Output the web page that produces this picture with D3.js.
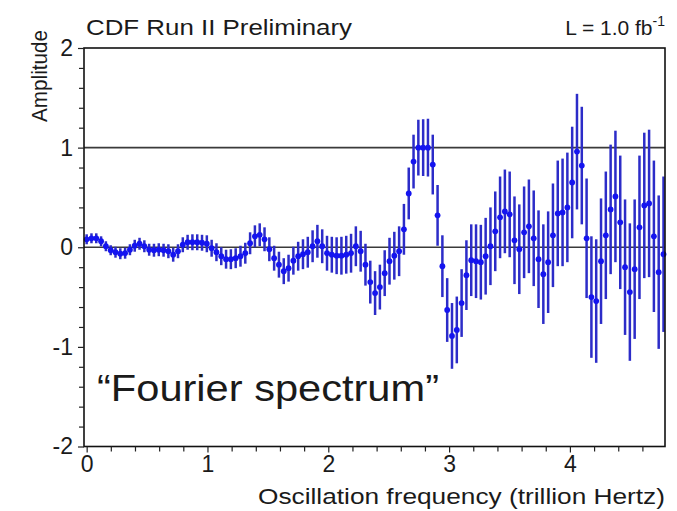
<!DOCTYPE html>
<html>
<head>
<meta charset="utf-8">
<script src="https://cdn.jsdelivr.net/npm/d3@7"></script>
<style>
  body { margin: 0; background: #fff; }
  text { font-family: "Liberation Sans", Arial, Helvetica, sans-serif; fill: #1a1a1a; }
</style>
</head>
<body>
<svg id="chart" width="677" height="511"></svg>
<script>
// Amplitude scan: one point per 0.25 ps^-1 step in Δm, shown as frequency (THz)
const scanStep = 0.25;

const amplitude = [
  0.08, 0.09, 0.09, 0.06, 0.01, -0.03, -0.05, -0.065, -0.06, -0.025,
  0.015, 0.035, 0.01, -0.025, -0.03, -0.025, -0.03, -0.04, -0.075, -0.04,
  0.025, 0.05, 0.05, 0.05, 0.045, 0.035, -0.01, -0.05, -0.09, -0.12,
  -0.12, -0.11, -0.09, -0.06, 0.04, 0.11, 0.125, 0.08, -0.02, -0.11,
  -0.175, -0.24, -0.21, -0.135, -0.09, -0.07, -0.05, 0.01, 0.06, 0.01,
  -0.06, -0.075, -0.085, -0.085, -0.075, -0.06, 0.01, -0.04, -0.175, -0.35,
  -0.46, -0.40, -0.26, -0.14, -0.085, -0.04, 0.18, 0.54, 0.86, 1.00,
  1.00, 1.00, 0.83, 0.32, -0.19, -0.63, -0.89, -0.83, -0.56, -0.28,
  -0.13, -0.14, -0.15, -0.09, 0.01, 0.16, 0.30, 0.36, 0.33, 0.07,
  -0.02, 0.15, 0.21, 0.09, -0.12, -0.27, -0.15, 0.12, 0.34, 0.35,
  0.40, 0.65, 0.96, 0.82, 0.09, -0.50, -0.54, -0.14, 0.12, 0.38,
  0.51, 0.25, -0.20, -0.45, -0.22, 0.20, 0.42, 0.44, 0.11, -0.25,
  -0.07
];

const amplitudeError = [
  0.05, 0.05, 0.05, 0.05, 0.05, 0.05, 0.055, 0.055, 0.055, 0.055,
  0.06, 0.06, 0.06, 0.06, 0.065, 0.065, 0.065, 0.07, 0.07, 0.07,
  0.075, 0.075, 0.08, 0.08, 0.08, 0.085, 0.085, 0.09, 0.09, 0.095,
  0.10, 0.10, 0.105, 0.105, 0.11, 0.11, 0.115, 0.12, 0.12, 0.125,
  0.13, 0.13, 0.135, 0.14, 0.145, 0.15, 0.155, 0.16, 0.165, 0.17,
  0.175, 0.18, 0.185, 0.19, 0.19, 0.195, 0.20, 0.205, 0.21, 0.215,
  0.22, 0.225, 0.23, 0.235, 0.24, 0.25, 0.255, 0.26, 0.27, 0.28,
  0.285, 0.29, 0.30, 0.305, 0.31, 0.32, 0.33, 0.335, 0.34, 0.35,
  0.36, 0.37, 0.375, 0.385, 0.39, 0.40, 0.41, 0.42, 0.43, 0.44,
  0.45, 0.46, 0.47, 0.48, 0.49, 0.50, 0.51, 0.52, 0.53, 0.54,
  0.55, 0.56, 0.58, 0.59, 0.60, 0.61, 0.62, 0.63, 0.64, 0.65,
  0.66, 0.67, 0.68, 0.69, 0.70, 0.72, 0.73, 0.74, 0.76, 0.77,
  0.78
];

const xTickValues = [0, 1, 2, 3, 4];
const yTickValues = [-2, -1, 0, 1, 2];
const referenceLevels = [0, 1];

const points = amplitude.map((a, i) => ({
  freq: (i * scanStep) / (2 * Math.PI),
  amp: a,
  err: amplitudeError[i]
}));

const svg = d3.select("#chart");
const plot = { left: 84, right: 665, top: 48, bottom: 446.5 };
const fontFamily = "Liberation Sans, Arial, sans-serif";
const plainNumber = d => String(d); // hyphen-minus, as on the original plot

const x = d3.scaleLinear().domain([-0.022, 4.787]).range([plot.left, plot.right]);
const y = d3.scaleLinear().domain([-2, 2]).range([plot.bottom, plot.top]);

// horizontal reference lines at 0 and 1
svg.append("g").selectAll("line").data(referenceLevels).join("line")
  .attr("x1", plot.left).attr("x2", plot.right)
  .attr("y1", d => y(d)).attr("y2", d => y(d))
  .attr("stroke", "#3a3a3a").attr("stroke-width", 1.6);

// error bars
svg.append("g").selectAll("line").data(points).join("line")
  .attr("x1", d => x(d.freq)).attr("x2", d => x(d.freq))
  .attr("y1", d => y(d.amp + d.err)).attr("y2", d => y(d.amp - d.err))
  .attr("stroke", "#2c2cc8").attr("stroke-width", 2.5);

// central values
svg.append("g").selectAll("circle").data(points).join("circle")
  .attr("cx", d => x(d.freq)).attr("cy", d => y(d.amp))
  .attr("r", 2.9).attr("fill", "#1414f0");

// frame
svg.append("rect")
  .attr("x", plot.left).attr("y", plot.top)
  .attr("width", plot.right - plot.left).attr("height", plot.bottom - plot.top)
  .attr("fill", "none").attr("stroke", "#111").attr("stroke-width", 1.6);

// x axis: major and minor ticks
const xMinor = d3.range(0, 4.79, 0.2).filter(v => Math.abs(v - Math.round(v)) > 1e-6);
const xAxisG = svg.append("g").attr("transform", `translate(0,${plot.bottom})`);
xAxisG.call(d3.axisBottom(x).tickValues(xTickValues).tickSize(6).tickPadding(3).tickFormat(plainNumber));
xAxisG.append("g").call(d3.axisBottom(x).tickValues(xMinor).tickSize(5).tickFormat(""));
xAxisG.selectAll(".domain").remove();
xAxisG.selectAll("line").attr("stroke", "#222").attr("stroke-width", 1.2);
xAxisG.selectAll("text").attr("font-size", 23).attr("fill", "#1a1a1a")
  .attr("font-family", fontFamily);

// y axis
const yMinor = d3.range(-2, 2.01, 0.2).filter(v => Math.abs(v - Math.round(v)) > 1e-6);
const yAxisG = svg.append("g").attr("transform", `translate(${plot.left},0)`);
yAxisG.call(d3.axisLeft(y).tickValues(yTickValues).tickSize(6).tickPadding(5).tickFormat(plainNumber));
yAxisG.append("g").call(d3.axisLeft(y).tickValues(yMinor).tickSize(5).tickFormat(""));
yAxisG.selectAll(".domain").remove();
yAxisG.selectAll("line").attr("stroke", "#222").attr("stroke-width", 1.2);
yAxisG.selectAll("text").attr("font-size", 23).attr("fill", "#1a1a1a")
  .attr("font-family", fontFamily);

// titles and annotations
svg.append("text").attr("x", 86).attr("y", 35).attr("font-size", 22.5)
  .attr("textLength", 266).attr("lengthAdjust", "spacingAndGlyphs")
  .text("CDF Run II Preliminary");

const lumi = svg.append("text").attr("x", 665).attr("y", 35).attr("font-size", 21)
  .attr("text-anchor", "end");
lumi.append("tspan").text("L = 1.0 fb");
lumi.append("tspan").attr("font-size", 14).attr("dy", -9).text("-1");

svg.append("text").attr("transform", "translate(47,76) rotate(-90)")
  .attr("text-anchor", "middle").attr("font-size", 22.5)
  .attr("textLength", 92).attr("lengthAdjust", "spacingAndGlyphs")
  .text("Amplitude");

svg.append("text").attr("x", 258).attr("y", 504)
  .attr("font-size", 22.5)
  .attr("textLength", 407).attr("lengthAdjust", "spacingAndGlyphs")
  .text("Oscillation frequency (trillion Hertz)");

svg.append("text").attr("x", 97).attr("y", 401).attr("font-size", 37)
  .attr("textLength", 342).attr("lengthAdjust", "spacingAndGlyphs")
  .text("\u201cFourier spectrum\u201d");
</script>
</body>
</html>
